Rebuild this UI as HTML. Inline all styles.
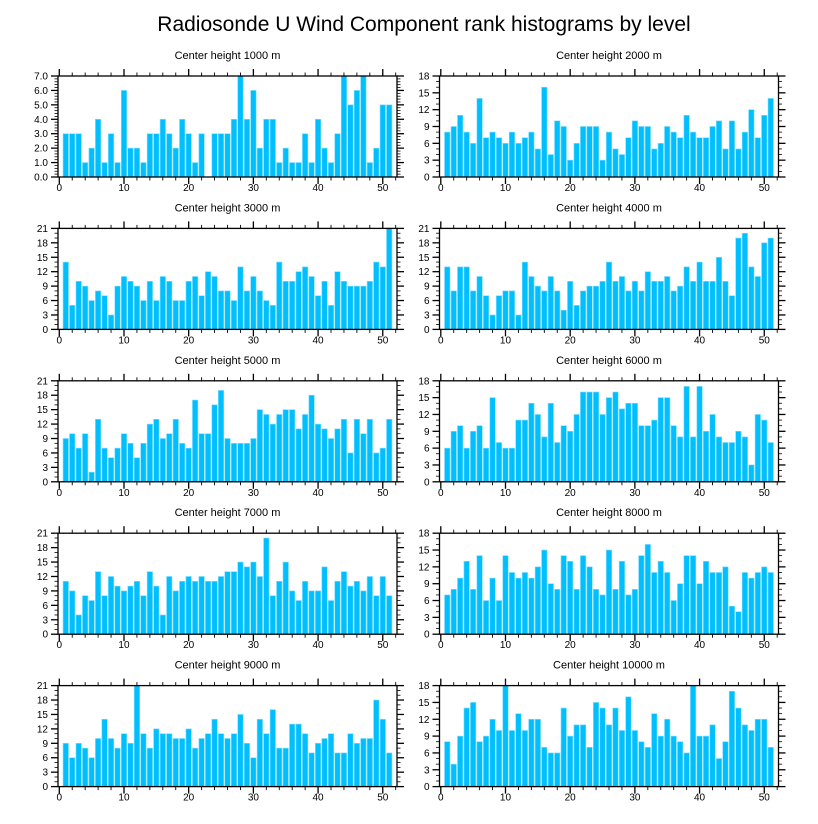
<!DOCTYPE html>
<html><head><meta charset="utf-8">
<style>
html,body{margin:0;padding:0;background:#fff;}
svg{display:block;font-family:"Liberation Sans",sans-serif;}
</style></head>
<body>
<svg id="chart" width="818" height="824" viewBox="0 0 818 824" xmlns="http://www.w3.org/2000/svg">
<text x="424" y="31" font-size="21" text-anchor="middle" fill="#000">Radiosonde U Wind Component rank histograms by level</text>
<g id="panels"></g>
</svg>
<script>
const ranks = Array.from({length:51},(_,i)=>i+1);
const levels = ["1000","2000","3000","4000","5000","6000","7000","8000","9000","10000"];
const h1000 = [3,3,3,1,2,4,1,3,1,6,2,2,1,3,3,4,3,2,4,3,1,3,0,3,3,3,4,7,4,6,2,4,4,1,2,1,1,3,1,4,2,1,3,7,5,6,7,1,2,5,5];
const h2000 = [8,9,11,8,6,14,7,8,7,6,8,6,7,8,5,16,4,10,9,3,6,9,9,9,3,8,5,4,7,10,9,9,5,6,9,8,7,11,8,7,7,9,10,5,10,5,8,12,7,11,14];
const h3000 = [14,5,10,9,6,8,7,3,9,11,10,9,6,10,6,11,10,6,6,10,11,7,12,11,8,8,6,13,8,11,8,6,5,14,10,10,12,13,11,7,10,5,12,10,9,9,9,10,14,13,21];
const h4000 = [13,8,13,13,8,11,7,3,7,8,8,3,14,11,9,8,11,8,4,10,5,8,9,9,10,14,10,11,8,10,8,12,10,10,11,8,9,13,10,14,10,10,15,10,7,19,20,13,11,18,19];
const h5000 = [9,10,7,10,2,13,7,5,7,10,8,5,8,12,13,9,10,13,8,7,17,10,10,16,19,9,8,8,8,9,15,14,12,14,15,15,11,14,18,12,11,9,11,13,6,13,10,13,6,7,13];
const h6000 = [6,9,10,6,9,10,6,15,7,6,6,11,11,14,12,8,14,7,10,9,12,16,16,16,12,15,16,13,14,14,10,10,11,15,15,10,8,17,8,17,9,12,8,7,7,9,8,3,12,11,7];
const h7000 = [11,9,4,8,7,13,8,12,10,9,10,11,8,13,10,4,12,9,11,12,11,12,11,11,12,13,13,15,14,15,12,20,8,11,15,9,7,11,9,9,14,7,11,13,10,11,9,12,8,12,8];
const h8000 = [7,8,10,13,8,14,6,10,6,14,11,10,11,10,12,15,9,8,14,13,8,14,12,8,7,15,8,13,7,8,14,16,11,13,11,6,9,14,14,9,13,11,11,12,5,4,11,10,11,12,11];
const h9000 = [9,6,9,8,6,10,14,10,8,11,9,21,11,8,12,11,11,10,10,12,8,10,11,14,11,10,11,15,9,6,14,11,16,8,8,13,13,11,7,9,10,11,7,7,11,9,10,10,18,14,7];
const h10000 = [8,4,9,14,15,8,9,12,10,18,10,13,10,12,12,7,6,6,14,9,11,11,7,15,14,11,14,10,16,10,8,7,13,9,12,9,8,6,18,9,9,11,5,8,17,14,11,10,12,12,7];
const series = [h1000,h2000,h3000,h4000,h5000,h6000,h7000,h8000,h9000,h10000];
const yMaxes = [7,18,21,21,21,18,21,18,21,18];
const yTicks7 = [0,1,2,3,4,5,6,7];
const yTicks18 = [0,3,6,9,12,15,18];
const yTicks21 = [0,3,6,9,12,15,18,21];
const xTicks = [0,10,20,30,40,50];

const NS="http://www.w3.org/2000/svg";
const root=document.getElementById('panels');
function mk(tag,attrs,parent){const e=document.createElementNS(NS,tag);for(const k in attrs)e.setAttribute(k,attrs[k]);(parent||root).appendChild(e);return e;}

const XMIN=-0.2, XMAX=52.2, PW=339, PH=101;
series.forEach((vals,p)=>{
  const col=p%2, row=Math.floor(p/2);
  const L= col===0?58:439.5, T=76+row*152.4;
  const ymax=yMaxes[p];
  const ticks = ymax===7?yTicks7:(ymax===18?yTicks18:yTicks21);
  const sx=v=>L+(v-XMIN)/(XMAX-XMIN)*PW;
  const sy=v=>T+PH-(v/ymax)*PH;
  const g=mk('g',{});
  
  
  const st=mk('text',{x:L+PW/2,y:T-17,'font-size':11,'text-anchor':'middle',fill:'#000'},g);
  st.textContent='Center height '+levels[p]+' m';
  
  
  // bars
  vals.forEach((v,i)=>{
    if(v<=0)return;
    const x=ranks[i], bw=0.84;
    const r=mk('rect',{x:sx(x-bw/2),y:sy(v),width:sx(x+bw/2)-sx(x-bw/2),height:sy(0)-sy(v),fill:'#00bfff',stroke:'#7fdcff','stroke-width':0.6},g);
    
    
  });
  // frame
  const fr=mk('rect',{x:L,y:T,width:PW,height:PH,fill:'none',stroke:'#000','stroke-width':1.3},g);
  
  
  // x ticks (top & bottom)
  for(let v=0;v<=52;v+=2){
    const major=v%10===0, len=major?7:3.5, x=sx(v);
    mk('line',{x1:x,x2:x,y1:T+PH,y2:T+PH+len,stroke:'#000','stroke-width':major?1.3:0.9},g);
    mk('line',{x1:x,x2:x,y1:T,y2:T-len,stroke:'#000','stroke-width':major?1.3:0.9},g);
  }
  xTicks.forEach(v=>{
    const t=mk('text',{x:sx(v),y:T+PH+14,'font-size':10,'text-anchor':'middle',fill:'#000'},g);
    t.textContent=v;
    
    
  });
  // y ticks
  const step=ymax===7?1:3, minor=ymax===7?0.2:1;
  for(let v=0;v<=ymax+1e-9;v+=minor){
    const major=Math.abs(v/step-Math.round(v/step))<1e-6, len=major?7:3.5, y=sy(v);
    mk('line',{x1:L,x2:L-len,y1:y,y2:y,stroke:'#000','stroke-width':major?1.3:0.8},g);
    mk('line',{x1:L+PW,x2:L+PW+len,y1:y,y2:y,stroke:'#000','stroke-width':major?1.3:0.8},g);
  }
  ticks.forEach(v=>{
    const t=mk('text',{x:L-10,y:sy(v)+3.5,'font-size':10,'text-anchor':'end',fill:'#000'},g);
    t.textContent= ymax===7? v.toFixed(1): v;
    
    
  });
});
</script>
</body></html>
